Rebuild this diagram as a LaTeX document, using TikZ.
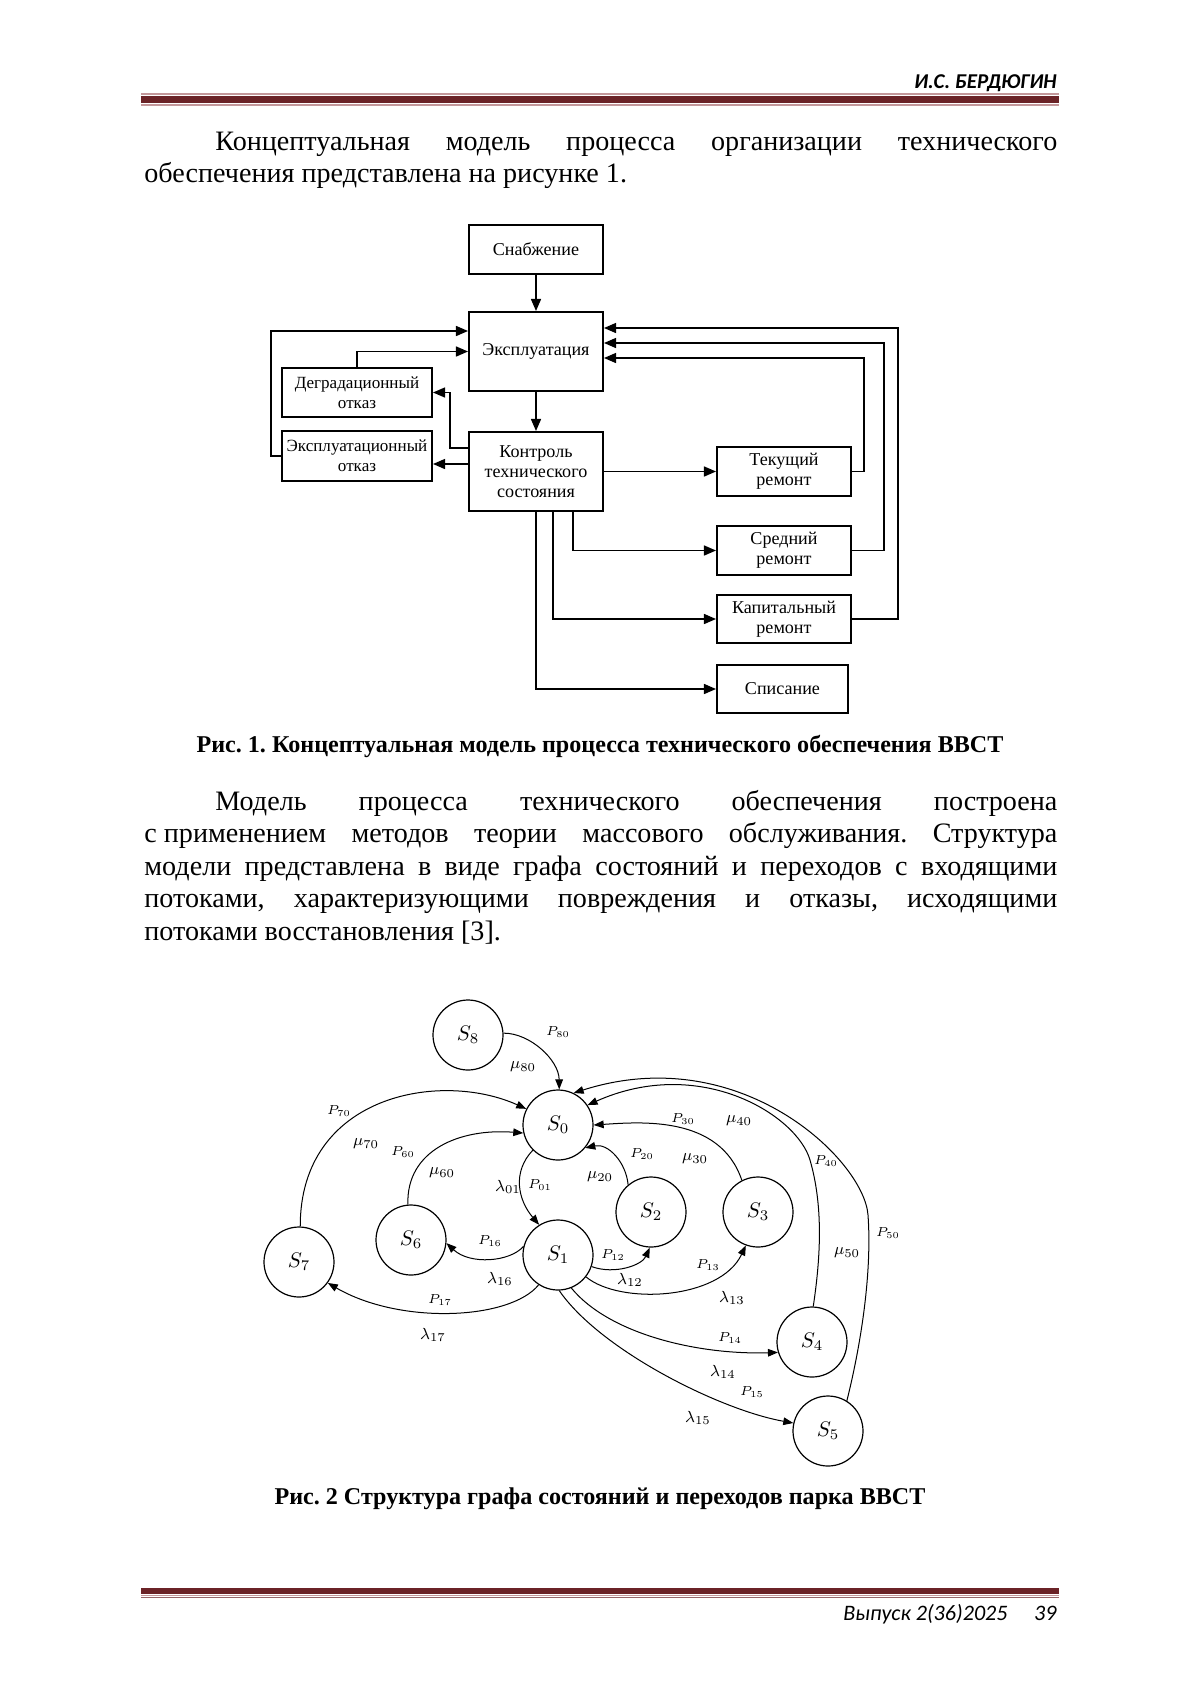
\documentclass[tikz,border=0pt]{standalone}
\usepackage{fix-cm}
\usepackage{fontspec}
\setmainfont{Liberation Serif}
\newfontfamily\hdrfont{Carlito}
\usepackage{tikz}
\usetikzlibrary{arrows.meta}
\definecolor{cRuleDark}{HTML}{6B2327}
\definecolor{cRuleLight}{HTML}{C4989B}
\frenchspacing

\begin{document}
\begin{tikzpicture}[x=0.0175cm, y=-0.0175cm,
    blk/.style={draw, line width=1pt, minimum width=134*0.0175cm, minimum height=49*0.0175cm,
      inner sep=1pt, align=center, font=\fontsize{9}{10}\selectfont},
    otk/.style={blk, minimum width=150*0.0175cm, font=\fontsize{8.5}{10}\selectfont},
    flow/.style={line width=0.7pt, -{Triangle[length=6pt,width=5pt]}},
    stnode/.style={circle, draw, line width=0.6pt, minimum size=70*0.0175cm, inner sep=0pt,
      font=\fontsize{10.5}{12}\selectfont},
    trans/.style={line width=0.5pt, -{Triangle[length=5pt,width=3.8pt]}},
    plab/.style={inner sep=0pt, font=\fontsize{6.5}{7}\selectfont},
    rlab/.style={inner sep=0pt, font=\fontsize{8}{9}\selectfont},
    txt/.style={anchor=base west, inner sep=0pt, font=\fontsize{14}{16}\selectfont},
    figcap/.style={anchor=base, inner sep=0pt, font=\fontsize{12}{14}\selectfont\bfseries}]
  \useasboundingbox (0,0) rectangle (1200,1697);

  % header
  \node[anchor=base east, inner sep=0pt, font=\hdrfont\bfseries\itshape\fontsize{10.5}{12}\selectfont] (hdr) at (1057,88) {И.С. БЕРДЮГИН};
  \fill[cRuleLight] (141,93) rectangle (1059,94.5);
  \fill[cRuleDark] (141,95.5) rectangle (1059,103);
  \fill[cRuleLight] (141,103.5) rectangle (1059,105.5);

  \node[txt] (t1) at (215,150) {\makebox[14.735cm][s]{Концептуальная модель процесса организации технического}};
  \node[txt] (t2) at (144,182) {обеспечения представлена на рисунке 1.};

  % figure 1
  \node[blk] (snab) at (536,249.5) {Снабжение};
  \node[blk, minimum height=79*0.0175cm] (ekspl) at (536,351.5) {Эксплуатация};
  \node[otk] (otk1) at (357,392.5) {Деградационный\\отказ};
  \node[otk, minimum height=50*0.0175cm] (otk2) at (357,456) {Эксплуатационный\\отказ};
  \node[blk, minimum height=79*0.0175cm] (kontr) at (536,471.5) {Контроль\\технического\\состояния};
  \node[blk] (tek) at (784,471.5) {Текущий\\ремонт};
  \node[blk] (sred) at (784,550.5) {Средний\\ремонт};
  \node[blk, minimum height=48*0.0175cm] (kap) at (784,619) {Капитальный\\ремонт};
  \node[blk, minimum width=131*0.0175cm, minimum height=48*0.0175cm] (spis) at (782.5,689) {Списание};

  \draw[flow] (snab) -- (ekspl);
  \draw[flow] (ekspl) -- (kontr);
  \draw[flow] (otk2.west) -- ++(-10,0) |- (ekspl.west |- 0,331);
  \draw[flow] (otk1.north) |- (ekspl.west);
  \draw[flow] (kontr.west |- 0,448) -- ++(-18,0) |- (otk1.east);
  \draw[flow] (kontr.west |- 0,464) -- (otk2.east |- 0,464);
  \draw[flow] (kontr.east |- 0,471.5) -- (tek.west);
  \draw[flow] (tek.east) -- ++(12,0) |- (ekspl.east |- 0,358);
  \draw[flow] (sred.east) -- ++(32,0) |- (ekspl.east |- 0,343);
  \draw[flow] (kap.east) -- ++(46,0) |- (ekspl.east |- 0,328);
  \draw[flow] (kontr.south -| 573,0) |- (sred.west);
  \draw[flow] (kontr.south -| 553,0) |- (kap.west);
  \draw[flow] (kontr.south -| 536,0) |- (spis.west);

  \node[figcap] (cap1) at (600,752) {Рис. 1. Концептуальная модель процесса технического обеспечения ВВСТ};

  \node[txt] (t3) at (215,810) {\makebox[14.735cm][s]{Модель процесса технического обеспечения построена}};
  \node[txt] (t4) at (144,842.5) {\makebox[15.9775cm][s]{с\kern0.25em применением методов теории массового обслуживания. Структура}};
  \node[txt] (t5) at (144,875) {\makebox[15.9775cm][s]{модели представлена в виде графа состояний и переходов с входящими}};
  \node[txt] (t6) at (144,907.5) {\makebox[15.9775cm][s]{потоками, характеризующими повреждения и отказы, исходящими}};
  \node[txt] (t7) at (144,940) {потоками восстановления [3].};

  % figure 2
  \node[stnode] (s0) at (558,1125) {$S_0$};
  \node[stnode] (s1) at (558,1255) {$S_1$};
  \node[stnode] (s2) at (651,1212) {$S_2$};
  \node[stnode] (s3) at (758,1212) {$S_3$};
  \node[stnode] (s4) at (812,1342) {$S_4$};
  \node[stnode] (s5) at (828,1431) {$S_5$};
  \node[stnode] (s6) at (411,1240) {$S_6$};
  \node[stnode] (s7) at (299,1262) {$S_7$};
  \node[stnode] (s8) at (468,1035) {$S_8$};

  \draw[trans] (s8.3) .. controls (530,1033) and (559,1060) .. (s0.88);
  \draw[trans] (s7.88) .. controls (300,1095) and (440,1070) .. (s0.153);
  \draw[trans] (s6.95) .. controls (406,1150) and (460,1128) .. (s0.193);
  \draw[trans] (s0.225) .. controls (512,1172) and (518,1200) .. (s1.122);
  \draw[trans] (s2.130) .. controls (626,1162) and (608,1143) .. (s0.-40);
  \draw[trans] (s3.117) .. controls (720,1115) and (640,1122) .. (s0.0);
  \draw[trans] (s4.88) .. controls (821,1255) and (823,1205) .. (810,1160)
    .. controls (797,1115) and (700,1055) .. (s0.34);
  \draw[trans] (s5.58) .. controls (862,1340) and (872,1270) .. (868,1215)
    .. controls (864,1160) and (740,1040) .. (s0.64);
  \draw[trans] (s1.166) .. controls (510,1262) and (470,1265) .. (s6.-5);
  \draw[trans] (s1.237) .. controls (510,1320) and (400,1325) .. (s7.-36);
  \draw[trans] (s1.-19) .. controls (615,1275) and (642,1265) .. (s2.-92);
  \draw[trans] (s1.-38) .. controls (620,1305) and (720,1300) .. (s3.-110);
  \draw[trans] (s1.-68) .. controls (610,1335) and (700,1355) .. (s4.-163);
  \draw[trans] (s1.-88) .. controls (600,1350) and (720,1410) .. (s5.167);

  \node[plab] (p80) at (558,1032) {$P_{80}$};
  \node[rlab] (m80) at (523,1067) {$\mu_{80}$};
  \node[plab] (p70) at (339,1111) {$P_{70}$};
  \node[rlab] (m70) at (366,1144) {$\mu_{70}$};
  \node[plab] (p60) at (403,1152) {$P_{60}$};
  \node[rlab] (m60) at (442,1173) {$\mu_{60}$};
  \node[rlab] (l01) at (508,1187) {$\lambda_{01}$};
  \node[plab] (p01) at (540,1185) {$P_{01}$};
  \node[plab] (p20) at (642,1154) {$P_{20}$};
  \node[rlab] (m20) at (600,1177) {$\mu_{20}$};
  \node[plab] (p30) at (683,1119) {$P_{30}$};
  \node[rlab] (m30) at (695,1159) {$\mu_{30}$};
  \node[plab] (p40) at (826,1161) {$P_{40}$};
  \node[rlab] (m40) at (739,1121) {$\mu_{40}$};
  \node[plab] (p50) at (888,1233) {$P_{50}$};
  \node[rlab] (m50) at (847,1253) {$\mu_{50}$};
  \node[plab] (p16) at (490,1241) {$P_{16}$};
  \node[rlab] (l16) at (500,1279) {$\lambda_{16}$};
  \node[plab] (p17) at (440,1300) {$P_{17}$};
  \node[rlab] (l17) at (433,1335) {$\lambda_{17}$};
  \node[plab] (p12) at (613,1255) {$P_{12}$};
  \node[rlab] (l12) at (630,1280) {$\lambda_{12}$};
  \node[plab] (p13) at (708,1265) {$P_{13}$};
  \node[rlab] (l13) at (732,1298) {$\lambda_{13}$};
  \node[plab] (p14) at (730,1338) {$P_{14}$};
  \node[rlab] (l14) at (723,1372) {$\lambda_{14}$};
  \node[plab] (p15) at (752,1392) {$P_{15}$};
  \node[rlab] (l15) at (698,1418) {$\lambda_{15}$};

  \node[figcap] (cap2) at (600,1504) {Рис. 2 Структура графа состояний и переходов парка ВВСТ};

  % footer
  \fill[cRuleDark] (141,1588) rectangle (1059,1594);
  \fill[cRuleLight] (141,1594.5) rectangle (1059,1596);
  \fill[cRuleDark!70] (141,1596.5) rectangle (1059,1598);
  \node[anchor=base east, inner sep=0pt, font=\hdrfont\itshape\fontsize{11}{13}\selectfont] (ftr) at (1008,1620) {Выпуск 2(36)2025};
  \node[anchor=base east, inner sep=0pt, font=\hdrfont\itshape\fontsize{11}{13}\selectfont] (pg) at (1057,1620) {39};
\end{tikzpicture}
\end{document}
